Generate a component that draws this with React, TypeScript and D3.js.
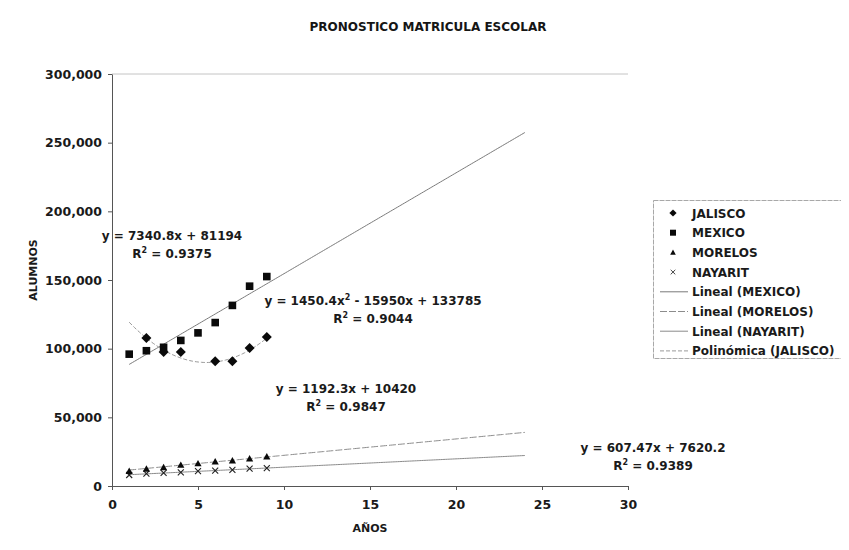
import { useEffect, useRef } from 'react'
import * as d3 from 'd3'

// años 1..9
const YEARS = [1, 2, 3, 4, 5, 6, 7, 8, 9]
const JALISCO = [null, 107800, 97600, 97500, null, 90800, 90900, 100500, 108500]
const MEXICO = [96000, 98500, 101000, 106000, 111500, 119000, 131500, 145500, 152500]
const MORELOS = [10800, 12400, 13600, 15300, 16400, 17800, 18500, 19900, 21400]
const NAYARIT = [8000, 9000, 9500, 9900, 10900, 11200, 11700, 12700, 13000]

// coeficientes de las líneas de tendencia (tal como aparecen en la gráfica)
const TREND_MEXICO = [7340.8, 81194]
const TREND_MORELOS = [1192.3, 10420]
const TREND_NAYARIT = [607.47, 7620.2]
const TREND_JALISCO = [1450.4, -15950, 133785]
const FORECAST_END = 24

const Y_TICKS = [0, 50000, 100000, 150000, 200000, 250000, 300000]
const X_TICKS = [0, 5, 10, 15, 20, 25, 30]

const LEGEND_SERIES = ['JALISCO', 'MEXICO', 'MORELOS', 'NAYARIT']
const LEGEND_TRENDS = ['Lineal (MEXICO)', 'Lineal (MORELOS)', 'Lineal (NAYARIT)', 'Polinómica (JALISCO)']

const FONT = 'DejaVu Sans, Verdana, sans-serif'

const diamond = (r: number) => `M0,${-r}L${r},0L0,${r}L${-r},0Z`
const square = (r: number) => `M${-r},${-r}H${r}V${r}H${-r}Z`
const triangle = (r: number) => `M0,${-r}L${r},${r * 0.8}L${-r},${r * 0.8}Z`
const cross = (r: number) => `M${-r},${-r}L${r},${r}M${-r},${r}L${r},${-r}`

export default function App() {
  const ref = useRef<SVGSVGElement>(null)

  useEffect(() => {
    const svg = d3.select(ref.current)
    svg.selectAll('*').remove()

    const x = d3.scaleLinear().domain([0, 30]).range([112, 628])
    const y = d3.scaleLinear().domain([0, 300000]).range([486, 74])

    // chart border
    svg.append('rect').attr('x', 2.5).attr('y', 1.5).attr('width', 843).attr('height', 546)
      .attr('fill', 'white').attr('stroke', '#9a9a9a').attr('stroke-dasharray', '8,2')

    svg.append('text').attr('x', 428).attr('y', 31).attr('text-anchor', 'middle')
      .attr('font-family', FONT).attr('font-size', 12).attr('font-weight', 'bold').attr('fill', '#151515')
      .text('PRONOSTICO MATRICULA ESCOLAR')

    // plot top border
    svg.append('line').attr('x1', x(0)).attr('x2', x(30)).attr('y1', y(300000)).attr('y2', y(300000))
      .attr('stroke', '#c4c4c4')

    const styleAxis = (a: any) => {
      a.select('.domain').attr('stroke', '#555')
      a.selectAll('.tick line').attr('stroke', '#555')
      a.selectAll('.tick text').attr('fill', '#1a1a1a').attr('font-family', FONT).attr('font-size', 12.5)
        .attr('font-weight', 'bold')
    }
    svg.append('g').attr('transform', `translate(${x(0)},0)`)
      .call(d3.axisLeft(y).tickValues(Y_TICKS).tickFormat(d3.format(',') as any).tickSizeInner(4).tickSizeOuter(0).tickPadding(6))
      .call(styleAxis)
    svg.append('g').attr('transform', `translate(0,${y(0)})`)
      .call(d3.axisBottom(x).tickValues(X_TICKS).tickSizeInner(4).tickSizeOuter(0).tickPadding(10))
      .call(styleAxis)

    svg.append('text').attr('transform', `translate(37,270) rotate(-90)`).attr('text-anchor', 'middle')
      .attr('font-family', FONT).attr('font-size', 11).attr('font-weight', 'bold').attr('fill', '#1a1a1a').text('ALUMNOS')
    svg.append('text').attr('x', 370).attr('y', 532).attr('text-anchor', 'middle')
      .attr('font-family', FONT).attr('font-size', 11).attr('font-weight', 'bold').attr('fill', '#1a1a1a').text('AÑOS')

    // trend lines
    const lin = (c: number[]) => (t: number) => c[0] * t + c[1]
    const poly = (c: number[]) => (t: number) => c[0] * t * t + c[1] * t + c[2]
    const trendLine = (f: (t: number) => number, x0: number, x1: number, stroke: string, dash: string | null) => {
      const pts = d3.range(x0, x1 + 0.001, 0.1)
      svg.append('path').datum(pts)
        .attr('d', d3.line<number>().x(d => x(d)).y(d => y(f(d))))
        .attr('fill', 'none').attr('stroke', stroke).attr('stroke-width', 1)
        .attr('stroke-dasharray', dash)
    }
    trendLine(lin(TREND_MEXICO), 1, FORECAST_END, '#7a7a7a', null)
    trendLine(lin(TREND_MORELOS), 1, FORECAST_END, '#8c8c8c', '7,2')
    trendLine(lin(TREND_NAYARIT), 1, FORECAST_END, '#8a8a8a', null)
    trendLine(poly(TREND_JALISCO), 1, 9, '#999', '4,2')

    // markers
    const drawSeries = (vals: (number | null)[], path: string, isCross = false) => {
      YEARS.forEach((t, i) => {
        const v = vals[i]
        if (v == null) return
        const g = svg.append('path').attr('d', path).attr('transform', `translate(${x(t)},${y(v)})`)
        if (isCross) g.attr('fill', 'none').attr('stroke', '#222').attr('stroke-width', 1.1)
        else g.attr('fill', '#0a0a0a')
      })
    }
    drawSeries(MEXICO, square(3.8))
    drawSeries(JALISCO, diamond(5))
    drawSeries(NAYARIT, cross(3), true)
    drawSeries(MORELOS, triangle(3.6))

    // equations
    const eq = (cx: number, cy: number, l1: string, c2: number, r2: string) => {
      const t = svg.append('text').attr('x', cx).attr('y', cy).attr('text-anchor', 'middle')
        .attr('font-family', FONT).attr('font-size', 12).attr('font-weight', 'bold').attr('fill', '#1a1a1a')
      const parts = l1.split('^2')
      t.append('tspan').text(parts[0])
      if (parts.length > 1) {
        t.append('tspan').attr('dy', -5).attr('font-size', 8).text('2')
        t.append('tspan').attr('dy', 5).text(parts[1])
      }
      const r = svg.append('text').attr('x', c2).attr('y', cy + 18).attr('text-anchor', 'middle')
        .attr('font-family', FONT).attr('font-size', 12).attr('font-weight', 'bold').attr('fill', '#1a1a1a')
      r.append('tspan').text('R')
      r.append('tspan').attr('dy', -5).attr('font-size', 8).text('2')
      r.append('tspan').attr('dy', 5).text(` = ${r2}`)
    }
    eq(172, 240, 'y = 7340.8x + 81194', 172, '0.9375')
    eq(373, 305, 'y = 1450.4x^2 - 15950x + 133785', 373, '0.9044')
    eq(346, 393, 'y = 1192.3x + 10420', 346, '0.9847')
    eq(653, 452, 'y = 607.47x + 7620.2', 653, '0.9389')

    // legend
    const lg = svg.append('g')
    lg.append('rect').attr('x', 653.5).attr('y', 200.5).attr('width', 191).attr('height', 158)
      .attr('fill', 'white').attr('stroke', '#a8a8a8').attr('stroke-dasharray', '5,1')
    const rowY = (i: number) => 213 + i * 19.7
    const markers = [diamond(3.6), square(3), triangle(2.8), cross(2.3)]
    LEGEND_SERIES.forEach((name, i) => {
      const p = lg.append('path').attr('d', markers[i]).attr('transform', `translate(673,${rowY(i)})`)
      if (i === 3) p.attr('fill', 'none').attr('stroke', '#444').attr('stroke-width', 1)
      else p.attr('fill', '#0a0a0a')
      lg.append('text').attr('x', 692).attr('y', rowY(i) + 4.5).attr('font-family', FONT)
        .attr('font-size', 12).attr('font-weight', 'bold').attr('fill', '#1a1a1a').text(name)
    })
    const trendStyles: [string, string | null][] = [['#7a7a7a', null], ['#8c8c8c', '7,2'], ['#8a8a8a', null], ['#999', '4,2']]
    LEGEND_TRENDS.forEach((name, i) => {
      const yy = rowY(i + 4)
      lg.append('line').attr('x1', 660).attr('x2', 688).attr('y1', yy).attr('y2', yy)
        .attr('stroke', trendStyles[i][0]).attr('stroke-dasharray', trendStyles[i][1])
      lg.append('text').attr('x', 692).attr('y', yy + 4.5).attr('font-family', FONT)
        .attr('font-size', 12).attr('font-weight', 'bold').attr('fill', '#1a1a1a').text(name)
    })
  }, [])

  return (
    <div style={{ margin: -8 }}>
      <svg ref={ref} width={849} height={550} style={{ display: 'block' }} />
    </div>
  )
}
